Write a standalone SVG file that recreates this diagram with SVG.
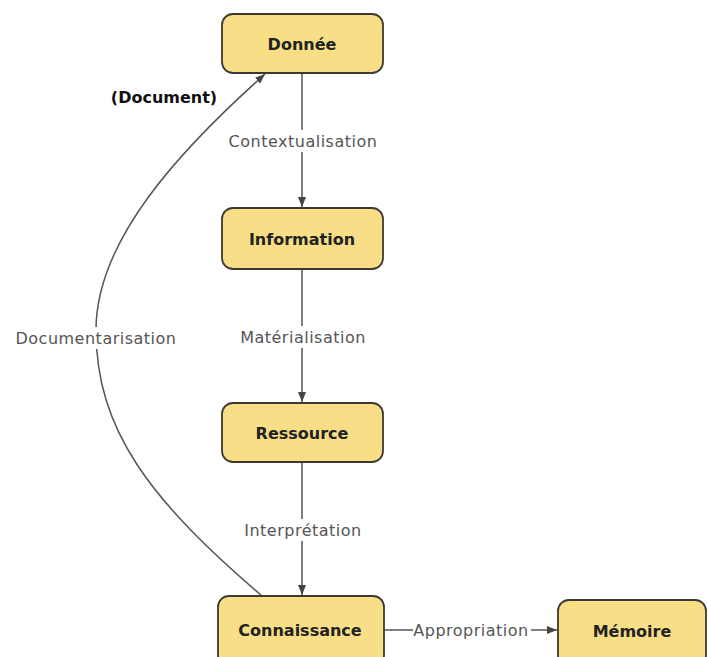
<svg xmlns="http://www.w3.org/2000/svg" width="708" height="657" viewBox="0 0 708 657">
<defs>
<style>
.node rect{fill:#f8de86;stroke:#3c3a30;stroke-width:1.8}
.node text{font-family:"DejaVu Sans",sans-serif;font-size:16px;font-weight:bold;fill:#222;text-anchor:middle;dominant-baseline:central}
.edge{fill:none;stroke:#555;stroke-width:1.5}
.lbl{font-family:"DejaVu Sans",sans-serif;font-size:16px;fill:#555;text-anchor:middle;dominant-baseline:central;letter-spacing:0.5px}
.bg{fill:#fff}
</style>
<marker id="arr" markerWidth="10" markerHeight="8" refX="10" refY="4" orient="auto" markerUnits="userSpaceOnUse">
<path d="M0,0 L10,4 L0,8 Z" fill="#444"/>
</marker>
</defs>
<rect width="708" height="657" fill="#fff"/>
<g id="connectors">
<path class="edge" d="M302,73 L302,207" marker-end="url(#arr)"/>
<path class="edge" d="M302,269 L302,402" marker-end="url(#arr)"/>
<path class="edge" d="M302,462 L302,595" marker-end="url(#arr)"/>
<path class="edge" d="M384,630 L557,630" marker-end="url(#arr)"/>
<path class="edge" d="M262,596 C150,500 96,430 96,330 C96,240 180,150 265,74" marker-end="url(#arr)"/>
<rect class="bg" x="225" y="130" width="156" height="22"/>
<text class="lbl" x="303" y="141">Contextualisation</text>
<rect class="bg" x="237" y="326" width="132" height="22"/>
<text class="lbl" x="303" y="337">Matérialisation</text>
<rect class="bg" x="241" y="519" width="124" height="22"/>
<text class="lbl" x="303" y="530">Interprétation</text>
<rect class="bg" x="12" y="327" width="168" height="22"/>
<text class="lbl" x="96" y="338">Documentarisation</text>
<rect class="bg" x="413" y="619" width="118" height="22"/>
<text class="lbl" x="471" y="630">Appropriation</text>
<text x="164" y="97" font-family="DejaVu Sans, sans-serif" font-size="16" font-weight="bold" fill="#111" text-anchor="middle" dominant-baseline="central">(Document)</text>
</g>
<g id="donnee" class="node"><rect x="222" y="14" width="161" height="59" rx="11"/><text x="302" y="44">Donnée</text></g>
<g id="information" class="node"><rect x="222" y="208" width="161" height="61" rx="11"/><text x="302" y="239">Information</text></g>
<g id="ressource" class="node"><rect x="222" y="403" width="161" height="59" rx="11"/><text x="302" y="433">Ressource</text></g>
<g id="connaissance" class="node"><rect x="218" y="596" width="166" height="70" rx="11"/><text x="300" y="630">Connaissance</text></g>
<g id="memoire" class="node"><rect x="558" y="600" width="148" height="66" rx="11"/><text x="632" y="631">Mémoire</text></g>
</svg>
